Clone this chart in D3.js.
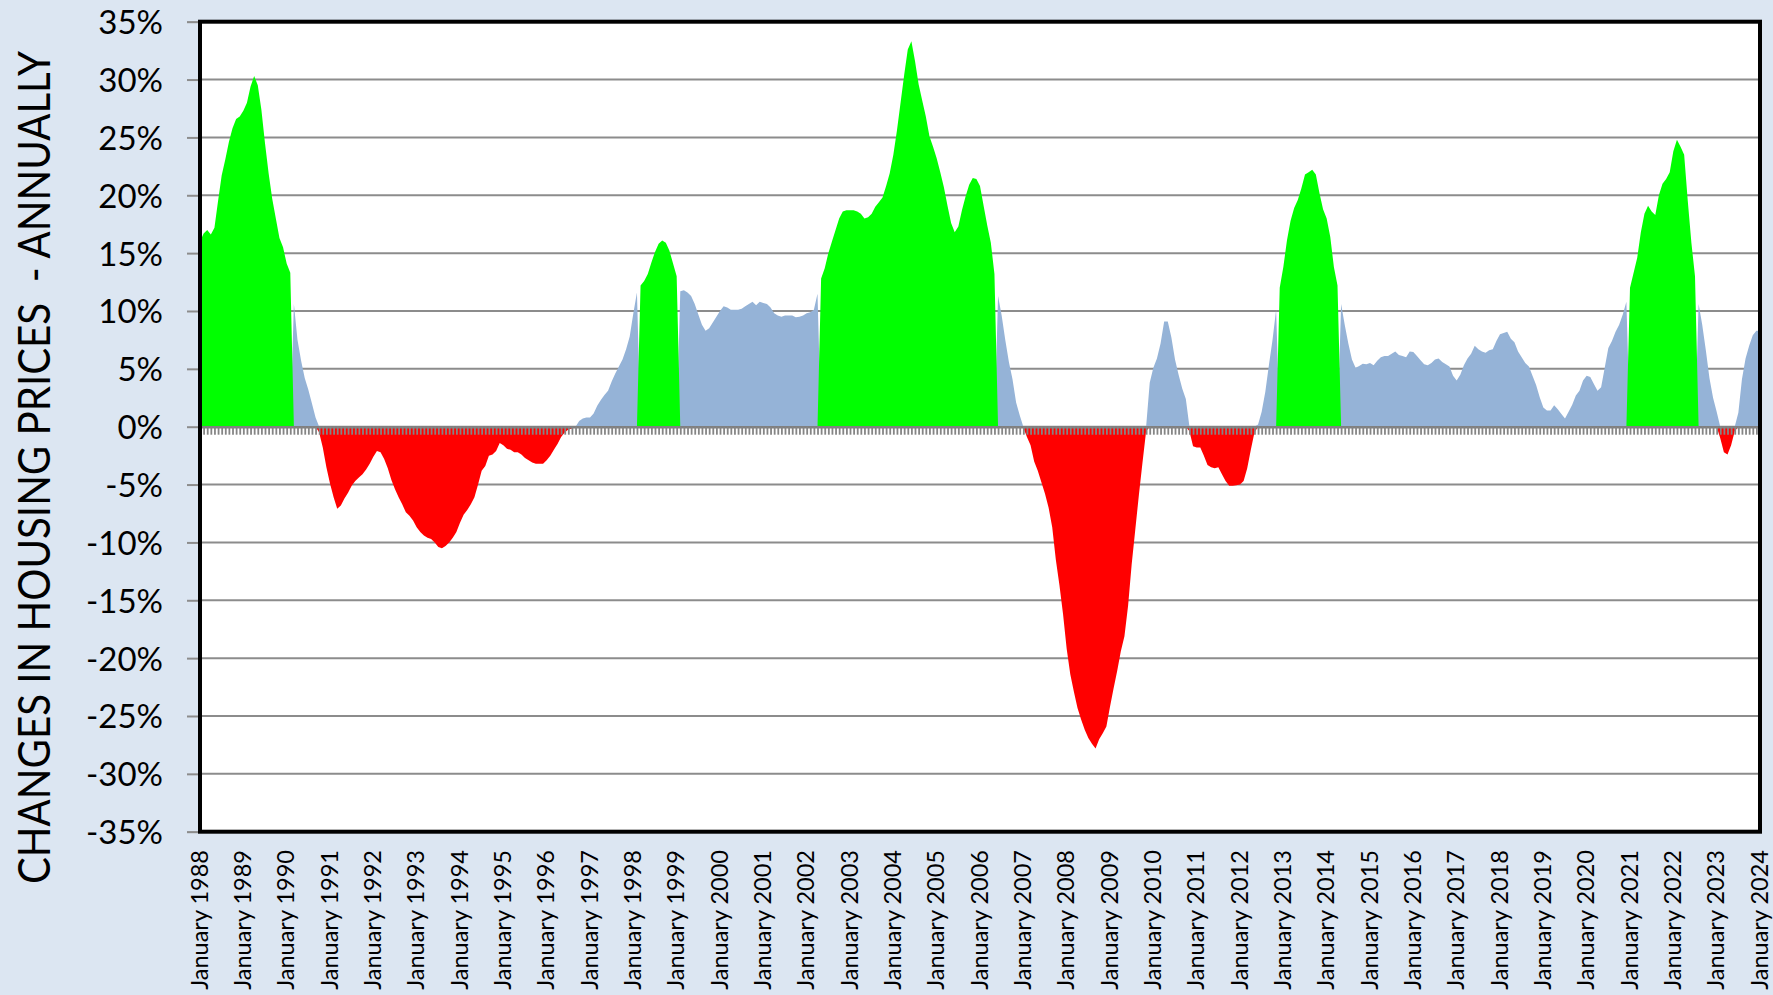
<!DOCTYPE html>
<html>
<head>
<meta charset="utf-8">
<script src="https://cdn.jsdelivr.net/npm/d3@7"></script>
<style>
  html, body { margin: 0; padding: 0; background: #DCE6F2; }
  svg { display: block; }
  text { font-family: Lato, "Open Sans", "DejaVu Sans", sans-serif; fill: #000; }
</style>
</head>
<body>
<svg id="chart" width="1773" height="995"></svg>
<script>
// ---------------- DATA ----------------
// Annual % change in housing prices, monthly, January 1988 .. January 2024
const changes1988_1993 = [
  16.0, 16.7, 17.0, 16.6, 17.2, 19.5, 21.7, 23.1, 24.6, 25.8, 26.6, 26.8,   // 1988
  27.3, 28.0, 29.4, 30.3, 29.5, 27.4, 24.5, 21.9, 19.7, 18.0, 16.3, 15.5,   // 1989
  14.1, 13.3, 10.6, 7.5, 5.7, 4.2, 3.2, 2.0, 0.8, -0.5, -1.8, -3.5,         // 1990
  -4.9, -6.1, -7.1, -6.8, -6.2, -5.7, -5.1, -4.7, -4.4, -4.1, -3.7, -3.2,   // 1991
  -2.6, -2.1, -2.2, -2.8, -3.6, -4.6, -5.4, -6.1, -6.7, -7.4, -7.7, -8.1,   // 1992
  -8.7, -9.1, -9.4, -9.6, -9.7, -10.0, -10.4, -10.5, -10.3, -10.0, -9.6, -9.1 // 1993
];
const changes1994_1999 = [
  -8.3, -7.6, -7.2, -6.7, -6.1, -5.0, -3.8, -3.4, -2.5, -2.4, -2.1, -1.4,   // 1994
  -1.6, -1.9, -2.0, -2.2, -2.2, -2.4, -2.7, -2.9, -3.1, -3.2, -3.2, -3.2,   // 1995
  -2.9, -2.5, -2.0, -1.5, -0.9, -0.5, -0.25, -0.15, -0.05, 0.5, 0.7, 0.8,   // 1996
  0.8, 1.15, 1.8, 2.3, 2.75, 3.1, 3.9, 4.6, 5.2, 5.8, 6.7, 7.8,             // 1997
  9.8, 11.6, 12.2, 12.6, 13.2, 14.2, 15.1, 15.8, 16.1, 15.9, 15.2, 14.1,    // 1998
  13.0, 11.7, 11.8, 11.6, 11.3, 10.6, 9.7, 8.8, 8.3, 8.5, 9.0, 9.5          // 1999
];
const changes2000_2005 = [
  10.0, 10.4, 10.3, 10.1, 10.1, 10.1, 10.2, 10.4, 10.6, 10.8, 10.5, 10.8,   // 2000
  10.7, 10.6, 10.3, 9.8, 9.6, 9.5, 9.6, 9.6, 9.6, 9.45, 9.5, 9.6,           // 2001
  9.8, 9.9, 10.1, 11.5, 12.8, 13.7, 15.0, 16.0, 17.0, 18.0, 18.6, 18.7,     // 2002
  18.7, 18.7, 18.6, 18.4, 18.0, 18.1, 18.4, 19.0, 19.4, 19.8, 20.8, 21.9,   // 2003
  23.5, 25.6, 28.0, 30.4, 32.6, 33.3, 31.6, 29.6, 28.2, 26.8, 25.1, 24.2,   // 2004
  23.2, 22.0, 20.7, 19.1, 17.6, 16.8, 17.3, 18.7, 19.9, 20.9, 21.5, 21.4    // 2005
];
const changes2006_2011 = [
  20.8, 19.1, 17.4, 15.9, 13.2, 11.3, 9.6, 7.5, 5.6, 4.1, 2.1, 1.0,         // 2006
  -0.1, -0.9, -1.6, -3.0, -3.8, -4.8, -5.8, -7.0, -8.7, -11.5, -13.7, -16.2, // 2007
  -19.2, -21.4, -22.9, -24.3, -25.3, -26.2, -26.9, -27.4, -27.8, -27.0, -26.5, -25.9, // 2008
  -24.2, -22.6, -21.1, -19.4, -18.1, -15.5, -11.9, -8.9, -5.9, -3.1, -0.4, 3.8, // 2009
  5.1, 5.9, 7.2, 9.1, 9.1, 7.7, 5.8, 4.5, 3.3, 2.4, -0.4, -1.7,             // 2010
  -1.8, -1.8, -2.5, -3.3, -3.5, -3.6, -3.5, -4.1, -4.7, -5.1, -5.1, -5.05   // 2011
];
const changes2012_2017 = [
  -5.0, -4.7, -3.6, -2.0, -0.5, 0.2, 1.3, 3.0, 5.3, 7.5, 10.1, 12.0,        // 2012
  13.8, 16.1, 17.8, 18.9, 19.6, 20.6, 21.8, 22.0, 22.2, 21.8, 20.2, 18.8,   // 2013
  18.0, 16.4, 13.8, 12.2, 10.6, 8.8, 7.2, 5.8, 5.1, 5.25, 5.45, 5.4,        // 2014
  5.5, 5.3, 5.7, 6.0, 6.1, 6.1, 6.3, 6.5, 6.2, 6.1, 6.0, 6.5,               // 2015
  6.45, 6.1, 5.75, 5.4, 5.3, 5.5, 5.8, 5.9, 5.6, 5.4, 5.2, 4.4,             // 2016
  4.0, 4.5, 5.3, 5.9, 6.3, 7.0, 6.7, 6.5, 6.4, 6.6, 6.7, 7.4                // 2017
];
const changes2018_2024 = [
  8.0, 8.1, 8.2, 7.6, 7.3, 6.5, 6.0, 5.5, 5.2, 4.4, 3.6, 2.55,              // 2018
  1.65, 1.4, 1.4, 1.85, 1.5, 1.1, 0.7, 1.3, 1.9, 2.7, 3.1, 4.0,             // 2019
  4.4, 4.3, 3.7, 3.1, 3.4, 5.1, 6.8, 7.4, 8.2, 8.8, 9.7, 10.8,              // 2020
  12.0, 13.3, 14.6, 16.8, 18.4, 19.1, 18.6, 18.3, 20.0, 21.0, 21.4, 22.0,   // 2021
  23.8, 24.8, 24.2, 23.5, 19.5, 15.9, 13.0, 10.6, 8.8, 6.6, 4.2, 2.5,       // 2022
  1.3, -1.0, -2.2, -2.4, -1.6, -0.4, 1.2, 4.1, 5.9, 7.0, 7.9, 8.3,          // 2023
  8.3                                                                       // Jan 2024
];
const boomThreshold = 12;   // % at/above which the change is shown as a boom (green)

const xTickLabels = [
  "January 1988","January 1989","January 1990","January 1991","January 1992","January 1993",
  "January 1994","January 1995","January 1996","January 1997","January 1998","January 1999",
  "January 2000","January 2001","January 2002","January 2003","January 2004","January 2005",
  "January 2006","January 2007","January 2008","January 2009","January 2010","January 2011",
  "January 2012","January 2013","January 2014","January 2015","January 2016","January 2017",
  "January 2018","January 2019","January 2020","January 2021","January 2022","January 2023",
  "January 2024"
];
const yTickValues = [-35, -30, -25, -20, -15, -10, -5, 0, 5, 10, 15, 20, 25, 30, 35];
const yTitle = "CHANGES IN HOUSING PRICES  - ANNUALLY";

// ---------------- CHART ----------------
const changes = [].concat(changes1988_1993, changes1994_1999, changes2000_2005,
                          changes2006_2011, changes2012_2017, changes2018_2024);

const plot = { left: 200, right: 1760, top: 21.7, bottom: 831.7 };
const svg = d3.select("#chart");

const x = d3.scaleLinear().domain([0, changes.length - 1]).range([plot.left, plot.right]);
const y = d3.scaleLinear().domain([-35, 35]).range([plot.bottom, plot.top]);

// background
svg.append("rect").attr("width", 1773).attr("height", 995).attr("fill", "#DCE6F2");
svg.append("rect")
  .attr("x", plot.left).attr("y", plot.top)
  .attr("width", plot.right - plot.left).attr("height", plot.bottom - plot.top)
  .attr("fill", "#fff");

// gridlines
svg.append("g").selectAll("line").data(yTickValues).join("line")
  .attr("x1", plot.left).attr("x2", plot.right)
  .attr("y1", d => y(d)).attr("y2", d => y(d))
  .attr("stroke", "#8C8C8C").attr("stroke-width", 2);

// areas
const series = [
  { name: "normal", color: "#95B3D7", test: v => v >= 0 && v < boomThreshold },
  { name: "boom",   color: "#00FF00", test: v => v >= boomThreshold },
  { name: "bust",   color: "#FF0000", test: v => v < 0 }
];
const area = d3.area()
  .x((d, i) => x(i))
  .y0(y(0))
  .y1(d => y(d));
svg.append("g").selectAll("path").data(series).join("path")
  .attr("d", s => area(changes.map(v => s.test(v) ? v : 0)))
  .attr("fill", s => s.color);

// category axis at zero with monthly tick marks
const xAxis = d3.axisBottom(x)
  .tickValues(d3.range(changes.length))
  .tickSize(8)
  .tickSizeOuter(0)
  .tickFormat("");
const xg = svg.append("g").attr("transform", `translate(0,${y(0)})`).call(xAxis);
xg.select(".domain").attr("stroke", "#808080").attr("stroke-width", 2.5);
xg.selectAll(".tick line").attr("stroke", "#858585").attr("stroke-width", 1.8);

// value axis ticks + labels
const yAxis = d3.axisLeft(y).tickValues(yTickValues).tickSize(12).tickFormat(d => d + "%");
const yg = svg.append("g").attr("transform", `translate(${plot.left - 1},0)`).call(yAxis);
yg.select(".domain").attr("stroke", "#8C8C8C").attr("stroke-width", 1.5);
yg.selectAll(".tick line").attr("stroke", "#8C8C8C").attr("stroke-width", 2);
yg.selectAll(".tick text")
  .attr("x", -36).attr("dy", "0.36em")
  .style("font-size", "33px")
  .style("font-family", "Lato, 'Open Sans', sans-serif")
  .attr("fill", "#000");

// plot border
svg.append("rect")
  .attr("x", plot.left).attr("y", plot.top)
  .attr("width", plot.right - plot.left).attr("height", plot.bottom - plot.top)
  .attr("fill", "none").attr("stroke", "#000").attr("stroke-width", 4);

// x tick labels (every 12 months)
svg.append("g").selectAll("text").data(xTickLabels).join("text")
  .attr("transform", (d, k) => `translate(${x(k * 12)},850) rotate(-90)`)
  .attr("text-anchor", "end")
  .attr("dy", "0.32em")
  .style("font-size", "23.5px")
  .text(d => d);

// y title
svg.append("text")
  .attr("transform", "translate(50,467.5) rotate(-90)")
  .attr("text-anchor", "middle")
  .attr("textLength", 833)
  .attr("lengthAdjust", "spacingAndGlyphs")
  .style("font-size", "44px")
  .style("white-space", "pre")
  .text(yTitle);
</script>
</body>
</html>
